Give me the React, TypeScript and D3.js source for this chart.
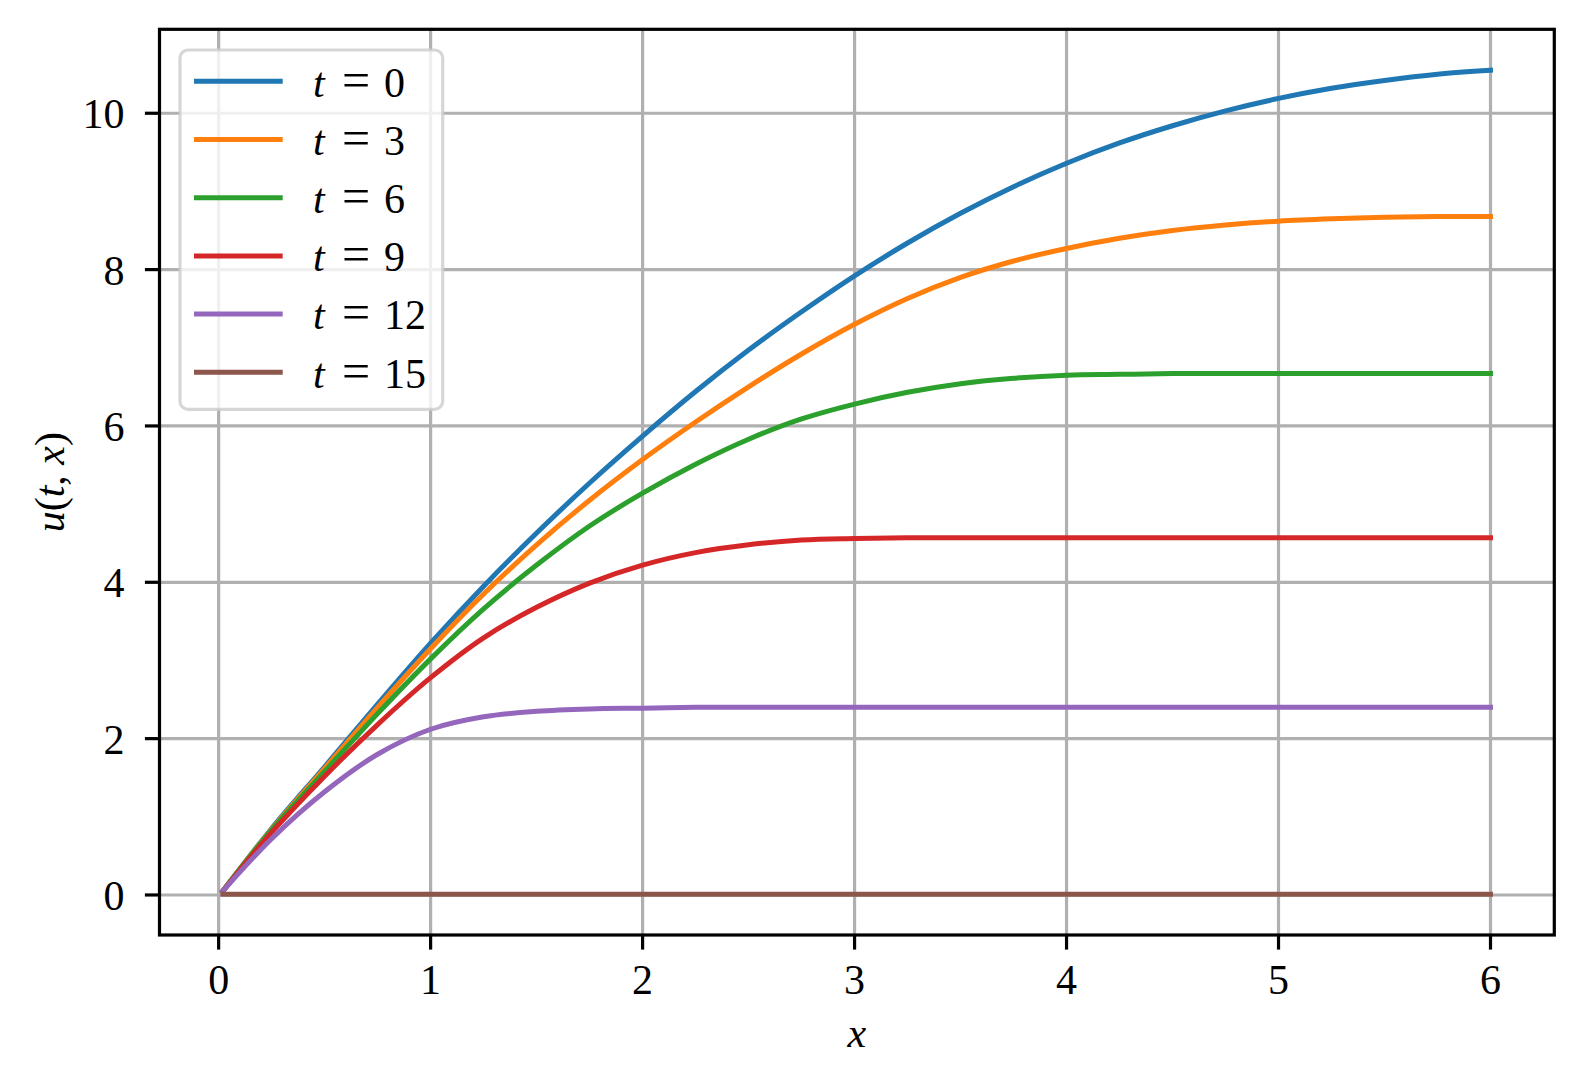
import React from "react";
import * as d3 from "d3";

const xGrid = [0.02, 0.25, 0.5, 0.75, 1, 1.25, 1.5, 1.75, 2, 2.25, 2.5, 2.75, 3, 3.25, 3.5, 3.75, 4, 4.25, 4.5, 4.75, 5, 5.25, 5.5, 5.75, 6];

const uT0 = [0.05, 0.85, 1.64, 2.44, 3.22, 3.95, 4.63, 5.27, 5.87, 6.44, 6.97, 7.46, 7.92, 8.34, 8.72, 9.06, 9.36, 9.62, 9.84, 10.03, 10.19, 10.32, 10.42, 10.5, 10.55];
const uT3 = [0.05, 0.84, 1.62, 2.4, 3.15, 3.85, 4.48, 5.05, 5.57, 6.05, 6.5, 6.92, 7.3, 7.63, 7.9, 8.11, 8.27, 8.4, 8.5, 8.57, 8.62, 8.65, 8.67, 8.68, 8.68];
const uT6 = [0.05, 0.83, 1.58, 2.32, 3.02, 3.66, 4.22, 4.72, 5.14, 5.51, 5.83, 6.09, 6.28, 6.43, 6.54, 6.61, 6.65, 6.66, 6.67, 6.67, 6.67, 6.67, 6.67, 6.67, 6.67];
const uT9 = [0.05, 0.8, 1.52, 2.18, 2.78, 3.29, 3.68, 3.99, 4.22, 4.38, 4.48, 4.54, 4.56, 4.57, 4.57, 4.57, 4.57, 4.57, 4.57, 4.57, 4.57, 4.57, 4.57, 4.57, 4.57];
const uT12 = [0.05, 0.72, 1.32, 1.8, 2.12, 2.28, 2.35, 2.38, 2.39, 2.4, 2.4, 2.4, 2.4, 2.4, 2.4, 2.4, 2.4, 2.4, 2.4, 2.4, 2.4, 2.4, 2.4, 2.4, 2.4];
const uT15 = [0.01, 0.01, 0.01, 0.01, 0.01, 0.01, 0.01, 0.01, 0.01, 0.01, 0.01, 0.01, 0.01, 0.01, 0.01, 0.01, 0.01, 0.01, 0.01, 0.01, 0.01, 0.01, 0.01, 0.01, 0.01];

const seriesTimes = ["0", "3", "6", "9", "12", "15"];
const seriesValues = [uT0, uT3, uT6, uT9, uT12, uT15];
const seriesColors = ["#1f77b4", "#ff7f0e", "#2ca02c", "#d62728", "#9467bd", "#8c564b"];

const xTicks = [0, 1, 2, 3, 4, 5, 6];
const yTicks = [0, 2, 4, 6, 8, 10];

const W = 1583;
const H = 1085;
const L = 159.5, R = 1554.3, T = 29.3, B = 935;
const FONT = "'Liberation Serif', 'Times New Roman', serif";

export default function App() {
  const x = d3.scaleLinear().domain([-0.279, 6.301]).range([L, R]);
  const y = d3.scaleLinear().domain([-0.512, 11.074]).range([B, T]);
  const line = d3
    .line<number>()
    .x((_, i) => x(xGrid[i]))
    .y((d) => y(d))
    .curve(d3.curveCatmullRom.alpha(0.5));

  const legX0 = 180, legY0 = 50, legW = 262.7, legH = 359.3;
  const rowY = (i: number) => 81.3 + i * 58.2;

  return (
    <div style={{ position: "absolute", left: 0, top: 0 }}>
      <svg width={W} height={H} viewBox={`0 0 ${W} ${H}`} style={{ display: "block", background: "#fff" }}>
        <rect x={0} y={0} width={W} height={H} fill="#fff" />
        {/* grid */}
        <g stroke="#b0b0b0" strokeWidth={3.2}>
          {xTicks.map((t) => (
            <line key={"gx" + t} x1={x(t)} x2={x(t)} y1={T} y2={B} />
          ))}
          {yTicks.map((t) => (
            <line key={"gy" + t} x1={L} x2={R} y1={y(t)} y2={y(t)} />
          ))}
        </g>
        {/* series */}
        <g fill="none" strokeWidth={5} strokeLinejoin="round" strokeLinecap="square">
          {seriesValues.map((vals, i) => (
            <path key={"s" + i} d={line(vals) || ""} stroke={seriesColors[i]} />
          ))}
        </g>
        {/* spines */}
        <rect x={L} y={T} width={R - L} height={B - T} fill="none" stroke="#000" strokeWidth={3.2} />
        {/* ticks */}
        <g stroke="#000" strokeWidth={3.2}>
          {xTicks.map((t) => (
            <line key={"tx" + t} x1={x(t)} x2={x(t)} y1={B} y2={B + 14.6} />
          ))}
          {yTicks.map((t) => (
            <line key={"ty" + t} x1={L} x2={L - 14.6} y1={y(t)} y2={y(t)} />
          ))}
        </g>
        {/* tick labels */}
        <g fontFamily={FONT} fontSize={42} fill="#000">
          {xTicks.map((t) => (
            <text key={"lx" + t} x={x(t)} y={993.5} textAnchor="middle">
              {String(t)}
            </text>
          ))}
          {yTicks.map((t) => (
            <text key={"ly" + t} x={124.5} y={y(t) + 15} textAnchor="end">
              {String(t)}
            </text>
          ))}
        </g>
        {/* axis labels */}
        <text x={(L + R) / 2} y={1047} textAnchor="middle" fontFamily={FONT} fontSize={42} fontStyle="italic">
          x
        </text>
        <text
          transform={`translate(64, ${(T + B) / 2}) rotate(-90)`}
          textAnchor="middle"
          fontFamily={FONT}
          fontSize={42}
        >
          <tspan fontStyle="italic">u</tspan>
          <tspan>(</tspan>
          <tspan fontStyle="italic">t</tspan>
          <tspan>, </tspan>
          <tspan fontStyle="italic">x</tspan>
          <tspan>)</tspan>
        </text>
        {/* legend */}
        <rect
          x={legX0}
          y={legY0}
          width={legW}
          height={legH}
          rx={8}
          ry={8}
          fill="#ffffff"
          fillOpacity={0.8}
          stroke="#cccccc"
          strokeOpacity={0.8}
          strokeWidth={3.2}
        />
        {seriesTimes.map((tv, i) => (
          <g key={"lg" + i}>
            <line x1={194} x2={282.7} y1={rowY(i)} y2={rowY(i)} stroke={seriesColors[i]} strokeWidth={5} />
            <text x={313} y={rowY(i) + 15.3} fontFamily={FONT} fontSize={42} fill="#000">
              <tspan fontStyle="italic">t</tspan>
              <tspan x={342} fontSize={50}>=</tspan>
              <tspan x={384}>{tv}</tspan>
            </text>
          </g>
        ))}
      </svg>
    </div>
  );
}
